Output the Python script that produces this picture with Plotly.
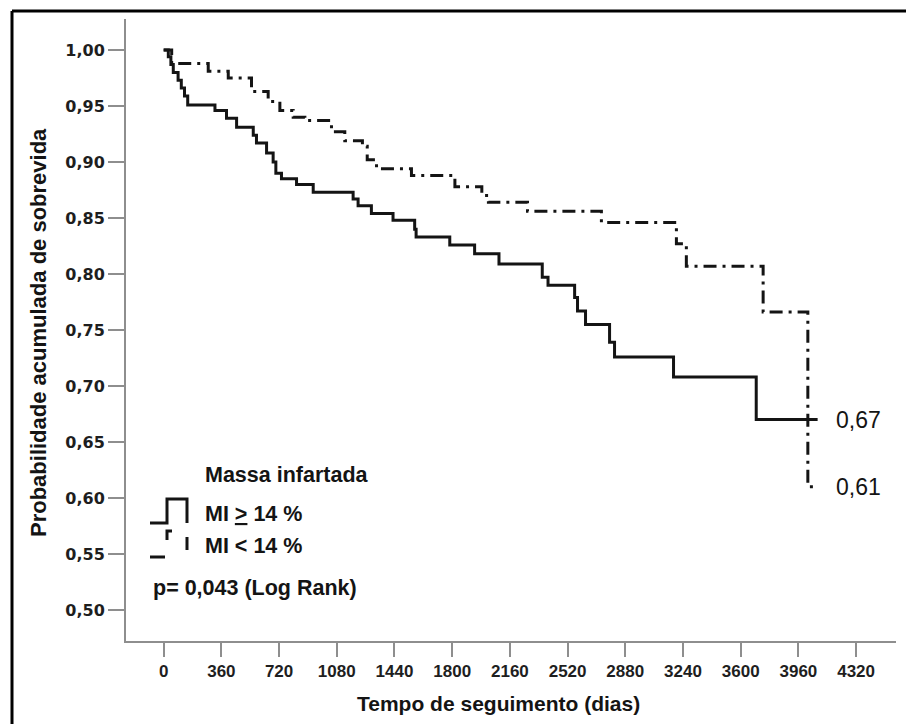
import plotly.graph_objects as go

# Kaplan-Meier estimates: follow-up time (days) and cumulative survival
dias_mi_maior = [0, 29, 45, 60, 90, 110, 130, 150, 320, 392, 455, 559, 579, 642, 683, 700,
                 735, 829, 933, 1182, 1213, 1296, 1431, 1566, 1575, 1785, 1940, 2092, 2362,
                 2398, 2564, 2582, 2632, 2782, 2813, 3181, 3697, 4080]
sobrev_mi_maior = [1.000, 0.994, 0.987, 0.980, 0.973, 0.966, 0.959, 0.951, 0.946, 0.939,
                   0.931, 0.924, 0.917, 0.908, 0.900, 0.890, 0.885, 0.880, 0.873, 0.867,
                   0.861, 0.854, 0.848, 0.840, 0.833, 0.826, 0.818, 0.809, 0.797, 0.790,
                   0.779, 0.767, 0.755, 0.739, 0.726, 0.708, 0.67, 0.67]

dias_mi_menor = [0, 50, 278, 403, 548, 652, 725, 808, 881, 1047, 1130, 1240, 1270, 1328,
                 1546, 1817, 1985, 2026, 2270, 2731, 3199, 3261, 3740, 4019, 4080]
sobrev_mi_menor = [1.000, 0.988, 0.981, 0.975, 0.963, 0.954, 0.946, 0.940, 0.937, 0.927,
                   0.919, 0.914, 0.902, 0.894, 0.888, 0.878, 0.870, 0.864, 0.856, 0.846,
                   0.827, 0.807, 0.766, 0.61, 0.61]

x_ticks = [0, 360, 720, 1080, 1440, 1800, 2160, 2520, 2880, 3240, 3600, 3960, 4320]
y_ticks = [0.50, 0.55, 0.60, 0.65, 0.70, 0.75, 0.80, 0.85, 0.90, 0.95, 1.00]
y_tick_text = [f"{v:.2f}".replace(".", ",") for v in y_ticks]

W, H = 906, 724
L, R, T, B = 126, 10, 19, 83
PW, PH = W - L - R, H - T - B

INK = "#141414"
AXIS = "#8e8e8e"
SANS = "Liberation Sans, Arial, sans-serif"


def px(x):
    """Page pixel column -> paper x."""
    return (x - L) / PW


def py(y):
    """Page pixel row -> paper y."""
    return (H - B - y) / PH


fig = go.Figure()

fig.add_trace(go.Scatter(
    x=dias_mi_maior, y=sobrev_mi_maior, mode="lines", line_shape="hv",
    line=dict(color=INK, width=3), name="MI ≥ 14 %", hoverinfo="skip"))

fig.add_trace(go.Scatter(
    x=dias_mi_menor, y=sobrev_mi_menor, mode="lines", line_shape="hv",
    line=dict(color=INK, width=3, dash="13px,6px,3px,6px"), name="MI < 14 %",
    hoverinfo="skip"))

fig.update_layout(
    width=W, height=H,
    margin=dict(l=L, r=R, t=T, b=B, autoexpand=False),
    paper_bgcolor="white", plot_bgcolor="white",
    showlegend=False,
    xaxis=dict(
        range=[-235, 4569], showgrid=False, zeroline=False,
        showline=True, linecolor=AXIS, linewidth=2,
        ticks="outside", ticklen=14, tickwidth=2, tickcolor=AXIS,
        tickvals=x_ticks, ticktext=[str(v) for v in x_ticks],
        tickfont=dict(family=SANS, size=17, color="#1e1e1e", weight="bold"),
    ),
    yaxis=dict(
        range=[0.4723, 1.0277], showgrid=False, zeroline=False,
        showline=True, linecolor=AXIS, linewidth=2,
        ticks="outside", ticklen=16, tickwidth=2, tickcolor=AXIS,
        tickvals=y_ticks, ticktext=y_tick_text,
        tickfont=dict(family="DejaVu Sans, sans-serif", size=16, color="#1e1e1e", weight="bold"),
    ),
)

ann = []
# axis titles
ann.append(dict(text="Tempo de seguimento (dias)", xref="paper", yref="paper",
                x=px(498), y=py(703), xanchor="center", yanchor="middle", showarrow=False,
                font=dict(family=SANS, size=21, color=INK, weight="bold")))
ann.append(dict(text="Probabilidade acumulada de sobrevida", xref="paper", yref="paper",
                x=px(38), y=py(333), xanchor="center", yanchor="middle", showarrow=False,
                textangle=-90,
                font=dict(family=SANS, size=22, color=INK, weight="bold")))

# legend block
leg_font = dict(family=SANS, size=21.5, color=INK, weight="bold")
ann.append(dict(text="Massa infartada", xref="paper", yref="paper", x=px(203), y=py(475),
                xanchor="left", yanchor="middle", showarrow=False, font=leg_font))
ann.append(dict(text="MI <u>&gt;</u> 14 %", xref="paper", yref="paper", x=px(203), y=py(514),
                xanchor="left", yanchor="middle", showarrow=False, font=leg_font))
ann.append(dict(text="MI &lt; 14 %", xref="paper", yref="paper", x=px(203), y=py(546),
                xanchor="left", yanchor="middle", showarrow=False, font=leg_font))
ann.append(dict(text="p= 0,043 (Log Rank)", xref="paper", yref="paper", x=px(151), y=py(588),
                xanchor="left", yanchor="middle", showarrow=False, font=leg_font))

# final survival values at the end of each curve
for dias, sobrev in [(dias_mi_maior, sobrev_mi_maior), (dias_mi_menor, sobrev_mi_menor)]:
    ann.append(dict(text=f"{sobrev[-1]:.2f}".replace(".", ","), xref="x", yref="y",
                    x=dias[-1], y=sobrev[-1], xanchor="left", yanchor="middle",
                    xshift=16, showarrow=False,
                    font=dict(family=SANS, size=23, color=INK)))

fig.update_layout(annotations=ann)


def path(points):
    return "M " + " L ".join(f"{px(a):.5f},{py(b):.5f}" for a, b in points)


shapes = [
    # legend keys drawn as small step glyphs
    dict(type="path", xref="paper", yref="paper",
         path=path([(150, 523), (167, 523), (167, 499), (187, 499), (187, 523)]),
         line=dict(color=INK, width=3)),
    dict(type="path", xref="paper", yref="paper",
         path=path([(150, 557), (167, 557), (167, 531), (187, 531), (187, 557)]),
         line=dict(color=INK, width=3, dash="15px,19px,14px,21px,13px,12px")),
    # page frame
    dict(type="line", xref="paper", yref="paper", x0=px(12), x1=px(906), y0=py(11), y1=py(11),
         line=dict(color="black", width=3)),
    dict(type="line", xref="paper", yref="paper", x0=px(12), x1=px(12), y0=py(11), y1=py(724),
         line=dict(color="black", width=3)),
]
fig.update_layout(shapes=shapes)

fig.write_html("out.html")
